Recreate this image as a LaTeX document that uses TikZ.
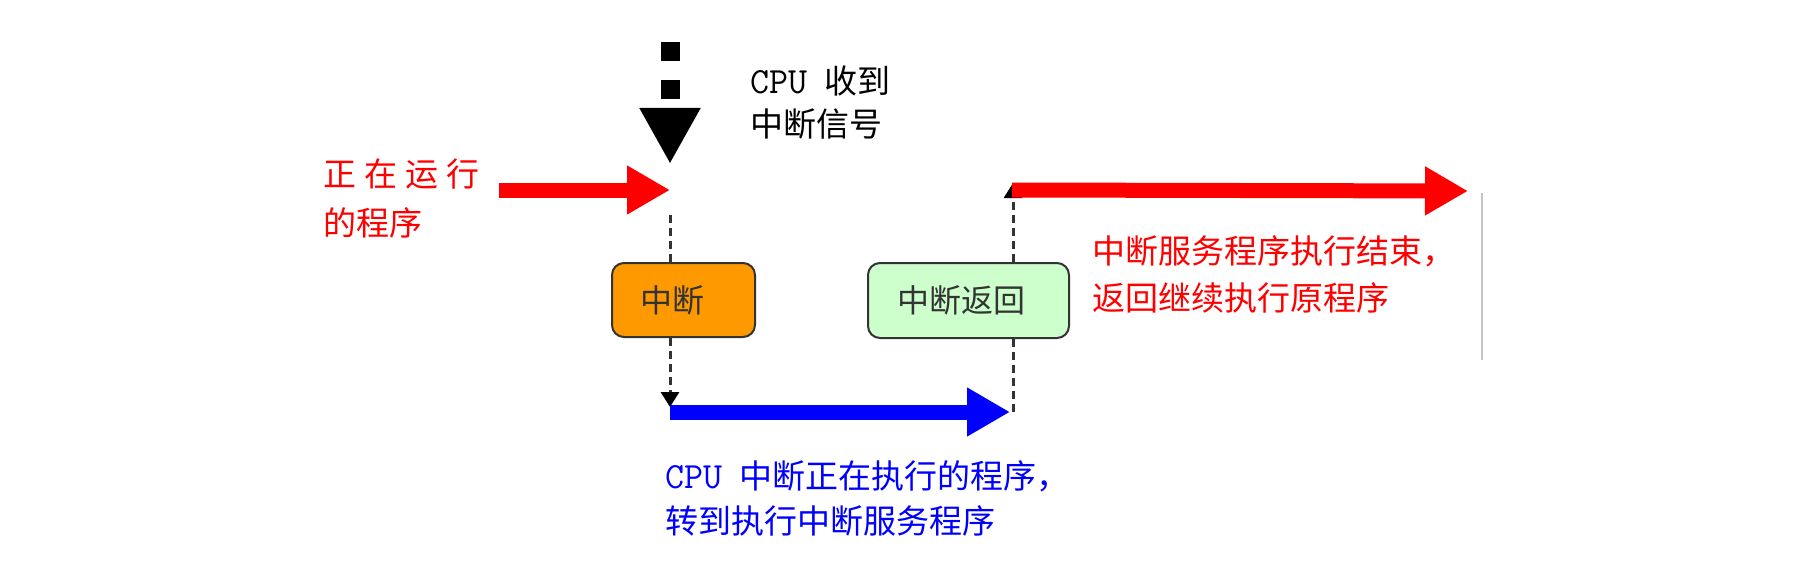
\documentclass[tikz,border=0pt]{standalone}
\usepackage{fontspec}
\setmainfont{Noto Sans CJK SC}
\newfontfamily\mono{Latin Modern Mono}[Scale=1.12]
\usetikzlibrary{arrows.meta}
\definecolor{orangefill}{HTML}{FF9900}
\definecolor{greenfill}{HTML}{CCFFCC}
\definecolor{boxline}{HTML}{333333}
\definecolor{redc}{HTML}{FF0000}
\definecolor{bluec}{HTML}{0000FF}
\definecolor{greyline}{HTML}{C4C4C4}
\tikzset{
  fatarrow/.style={line width=7.5pt, -{Triangle[length=21.5pt 0 0, width=23pt 0 0]}},
  sigarrow/.style={line width=9.5pt, dash pattern=on 9.5pt off 9.5pt, -{Triangle[length=28pt 0 0, width=28.5pt 0 0]}},
  thindash/.style={draw=boxline, line width=1.5pt, dash pattern=on 4pt off 2.5pt},
  smalltip/.style={-{Triangle[length=7.5pt 0 0, width=9pt 0 0, color=black, fill=black]}},
  roundbox/.style={draw=boxline, line width=1pt, rounded corners=6pt, inner sep=0pt},
  boxtext/.style={text=boxline, inner sep=0pt, font=\fontsize{16pt}{20pt}\selectfont},
  txt/.style={inner sep=0pt, anchor=north west, align=left},
}
\begin{document}
\begin{tikzpicture}[x=0.5pt,y=-0.5pt]
\useasboundingbox (0,0) rectangle (1799,567);
% coordinates
\coordinate (sigtop) at (670,42);
\coordinate (sigtip) at (670,164);
\coordinate (runstart) at (499,190);
\coordinate (runend) at (670,190);
\coordinate (dashtop) at (670,215);
\coordinate (svcin) at (670,407);
\coordinate (svcstart) at (670,412);
\coordinate (svcend) at (1010,412);
\coordinate (retbot) at (1013,412);
\coordinate (rettop) at (1013,183);
\coordinate (resstart) at (1012,190);
\coordinate (resend) at (1468,191);
\coordinate (gtop) at (1482,193);
\coordinate (gbot) at (1482,360);
% boxes
\node[roundbox, fill=orangefill, minimum width=71.5pt, minimum height=37pt] (intr) at (683.5,300) {};
\node[boxtext] (intrtxt) at (672,300) {中断};
\node[roundbox, fill=greenfill, minimum width=100.5pt, minimum height=37.5pt] (ret) at (968.5,300.5) {};
\node[boxtext] (rettxt) at (961,300) {中断返回};
% connectors
\draw[sigarrow, black] (sigtop) -- (sigtip);
\draw[fatarrow, redc] (runstart) -- (runend);
\draw[thindash] (dashtop) -- (intr.north -| dashtop);
\draw[thindash, smalltip] (intr.south -| dashtop) -- (svcin);
\draw[fatarrow, bluec] (svcstart) -- (svcend);
\draw[thindash] (retbot) -- (ret.south -| retbot);
\draw[thindash, smalltip] (ret.north -| retbot) -- (rettop);
\draw[fatarrow, redc] (resstart) -- (resend);
\draw[greyline, line width=1.2pt] (gtop) -- (gbot);
% texts
\node[txt, text=redc, font=\fontsize{16.5pt}{24.5pt}\selectfont] (runtxt) at (323,158)
  {正\hspace{4pt}在\hspace{4pt}运\hspace{4pt}行\\的程序};
\node[txt, text=black, font=\fontsize{16.5pt}{21.5pt}\selectfont] (sigtxt) at (750,65)
  {{\mono CPU\hspace{0.45em}}收到\\中断信号};
\node[txt, text=redc, font=\fontsize{16.5pt}{23.5pt}\selectfont] (restxt) at (1092,235)
  {中断服务程序执行结束，\\返回继续执行原程序};
\node[txt, text=bluec, font=\fontsize{16.5pt}{22.5pt}\selectfont] (svctxt) at (665,460)
  {{\mono CPU\hspace{0.45em}}中断正在执行的程序，\\转到执行中断服务程序};
\end{tikzpicture}
\end{document}
